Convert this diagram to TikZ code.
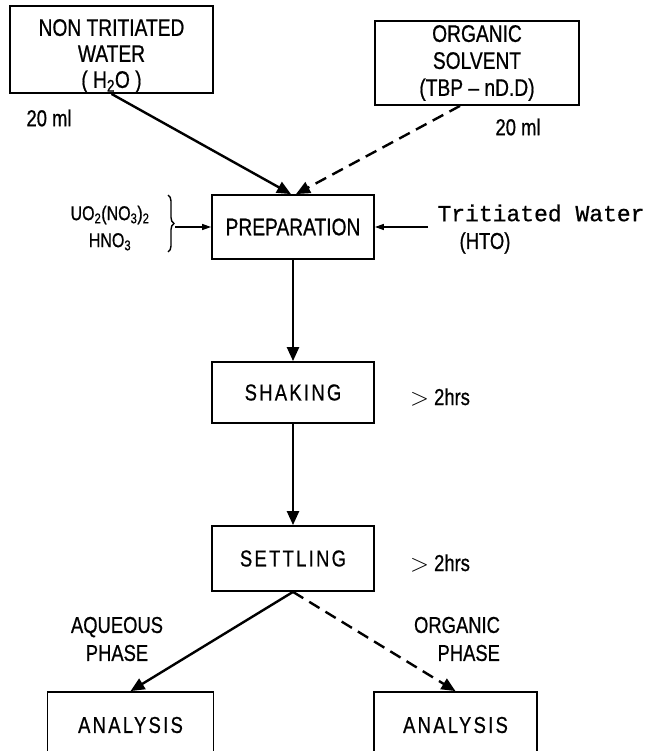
\documentclass[tikz,border=0pt]{standalone}
\usepackage{fontspec}
\setmainfont[FakeStretch=0.8,FakeBold=0.7]{Liberation Sans}
\newfontfamily\typefont[FakeBold=0.7]{Liberation Mono}
\usetikzlibrary{arrows.meta,decorations.pathreplacing}

\tikzset{
  box/.style={draw, line width=1.8pt, inner sep=0pt, align=center, font=\fontsize{24}{27}\selectfont},
  spaced/.style={font=\fontsize{23}{27}\selectfont\addfontfeature{LetterSpace=10}},
  note/.style={inner sep=0pt, font=\fontsize{23}{28}\selectfont},
  flow/.style={line width=2.4pt, -{Triangle[length=14pt,width=12pt]}},
  feed/.style={line width=1.4pt, -{Triangle[length=9pt,width=6pt]}},
  oil/.style={flow, dash pattern=on 12pt off 7pt},
}

\begin{document}
\begin{tikzpicture}[x=1pt,y=-1pt]
\useasboundingbox (0,0) rectangle (646,751);
\clip (0,0) rectangle (646,751);

\node[box, minimum width=203pt, minimum height=87pt] (water) at (111.5,49.5) {};
\node[align=center, inner sep=0pt, font=\fontsize{24}{26}\selectfont] (watertext) at (111.5,56) {NON TRITIATED\\WATER\\( H\textsubscript{2}O )};
\node[box, minimum width=204pt, minimum height=84pt] (solvent) at (477,63) {ORGANIC\\SOLVENT\\(TBP -- nD.D)};
\node[box, minimum width=162pt, minimum height=64pt] (prep) at (293,227) {PREPARATION};
\node[box, spaced, minimum width=162pt, minimum height=61pt] (shake) at (293,392.5) {SHAKING};
\node[box, spaced, minimum width=162pt, minimum height=65pt] (settle) at (293,558.5) {SETTLING};
\node[box, spaced, minimum width=166pt, minimum height=66pt] (aqana) at (130.5,725) {ANALYSIS};
\node[box, spaced, minimum width=163pt, minimum height=66pt] (organa) at (455.5,725) {ANALYSIS};

\node[note] (wvol) at (49,118) {20 ml};
\node[note] (svol) at (518,127) {20 ml};
\node[note, font=\fontsize{20}{27}\selectfont, align=center] (salt) at (110,228) {UO\textsubscript{2}(NO\textsubscript{3})\textsubscript{2}\\HNO\textsubscript{3}};
\node[inner sep=0pt, font=\typefont\fontsize{23}{27}\selectfont] (hto) at (541,213) {Tritiated Water};
\node[note] (htolbl) at (485,243) {(HTO)};
\node[note] (shaketime) at (440,397) {$>$ 2hrs};
\node[note] (settletime) at (440,563) {$>$ 2hrs};
\node[note, align=center] (aqlbl) at (117,639) {AQUEOUS\\PHASE};
\node[note, align=right] (orglbl) at (457,639) {ORGANIC\\PHASE};

% side feeds
\draw[line width=1.4pt, decorate, decoration={brace, amplitude=6pt}] (168,195) -- (168,252);
\coordinate (brtip) at (175,227);
\coordinate (htoin) at (428,227);
\draw[feed] (brtip) -- (prep.west);
\draw[feed] (htoin) -- (prep.east);

% main flow
\draw[flow] (water.south) -- ([xshift=-2pt]prep.north);
\draw[oil] ([xshift=-17pt]solvent.south) -- ([xshift=3pt]prep.north);
\draw[flow] (prep) -- (shake);
\draw[flow] (shake) -- (settle);
\draw[flow] (settle.south) -- (aqana.north);
\draw[oil] (settle.south) -- (organa.north);

\end{tikzpicture}
\end{document}
